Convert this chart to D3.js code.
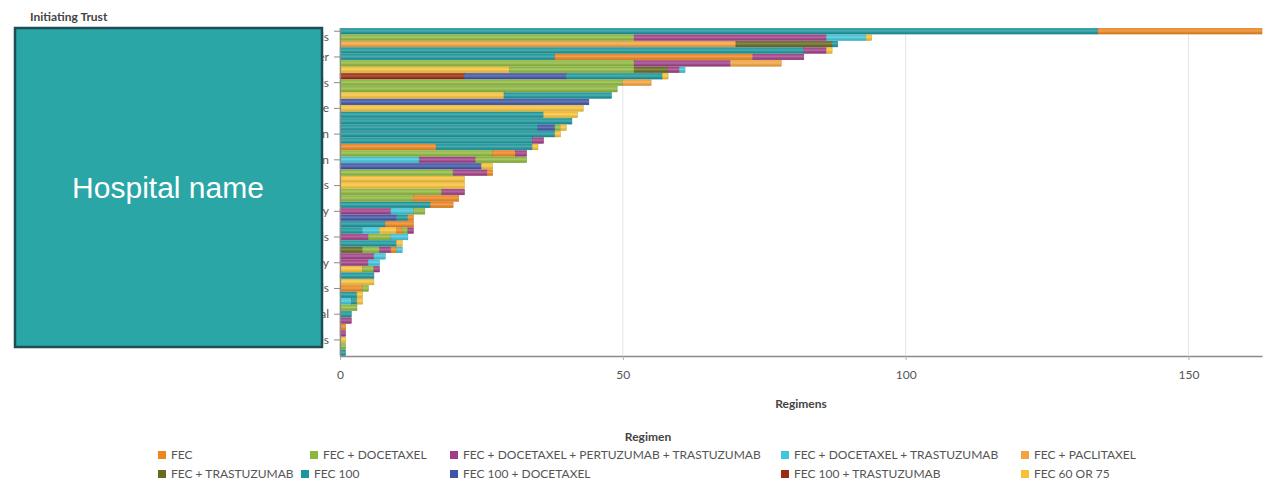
<!DOCTYPE html>
<html>
<head>
<meta charset="utf-8">
<script src="https://cdn.jsdelivr.net/npm/d3@7"></script>
<style>
  html, body { margin: 0; padding: 0; background: #fff; }
  svg { display: block; }
  text { font-family: Lato, "Open Sans", sans-serif; }
</style>
</head>
<body>
<svg id="chart" width="1287" height="484"></svg>
<script>
// ---------------- DATA ----------------
const hospitals = [
  "Northfield Hospitals", "Royal Eastgate Hospital", "St Marys General Hospital", "Westbrook Hospital",
  "University Hospitals of Leicester", "Kingsway District Hospital", "Riverside Hospital", "Hillcrest Royal Infirmary",
  "Southmead Acute Hospitals", "Queens Memorial Hospital", "Valley Community Hospital", "Castle Hill Hospital",
  "Regional Cancer Centre", "Parkside Hospital", "Lakeside General Hospital", "Abbey Road Infirmary",
  "Hospital of St John", "Moorfield Hospital", "Bridgewater Hospital", "Harbour View Hospital",
  "Royal Free London", "Meadowbank Hospital", "Greenlane Hospital", "Oakwood Infirmary",
  "Leeds", "Stonebridge Hospital", "Marshfield Hospital", "Highgate Hospital",
  "Rugby", "Elmwood Hospital", "Fairview Hospital", "Brookside Hospital",
  "Central City Hospitals", "Millbrook Hospital", "Redhill Hospital", "Willowdale Hospital",
  "Kingsbridge Royal Infirmary", "Beacon Hospital", "Heathfield Hospital", "Cedar Hospital",
  "Northern Shire Hospitals", "Seaview Hospital", "Foxhall Hospital", "Glenmoor Hospital",
  "Westfield General Hospital", "Pinegrove Hospital", "Rosehill Hospital", "Lowmoor Hospital",
  "Eastern Valley Hospitals", "Bayside Hospital", "Thornbury Hospital"
];

const regimens = [
  "FEC", "FEC + DOCETAXEL", "FEC + DOCETAXEL + PERTUZUMAB + TRASTUZUMAB",
  "FEC + DOCETAXEL + TRASTUZUMAB", "FEC + PACLITAXEL", "FEC + TRASTUZUMAB",
  "FEC 100", "FEC 100 + DOCETAXEL", "FEC 100 + TRASTUZUMAB", "FEC 60 OR 75"
];

const regimenColors = [
  "#ee861f", "#8db93b", "#a03f86", "#3ec6da", "#f5a33c",
  "#66691e", "#19979c", "#3e54a6", "#9c2a10", "#f8c236"
];

// values per hospital (51 bars, in the order of `hospitals`)
const fec = [29,0,0,0,35,0,0,0,0,0, 0,0,0,0,0,0,0,0,17,4, 0,0,1,0,0,0,8,4,0,1, 5,1,0,0,1,0,0,0,0,0, 4,0,0,0,0,0,1,0,0,0, 0];
const fecDocetaxel = [0,52,0,0,0,52,22,0,50,49, 0,0,0,0,0,1,0,0,0,27, 9,0,20,0,0,18,13,0,2,0, 0,1,4,0,3,0,0,2,0,0, 1,0,0,3,0,0,0,0,0,1, 0];
const fecDocPerTras = [0,34,0,4,9,17,2,0,0,0, 0,0,0,0,0,0,0,2,0,2, 10,0,6,0,0,4,0,0,9,0, 0,1,5,0,2,6,5,1,0,0, 0,0,0,0,0,2,0,1,0,0, 0];
const fecDocTras = [0,7,0,0,0,0,1,0,0,0, 0,0,0,0,0,0,0,0,0,0, 14,0,0,0,0,0,0,0,4,0, 0,3,3,0,1,2,2,0,0,0, 0,0,2,0,0,0,0,0,0,0, 0];
const fecPaclitaxel = [0,0,70,0,0,9,0,0,5,0, 0,0,0,0,0,0,0,0,0,0, 0,0,0,0,0,0,0,0,0,0, 0,0,0,0,0,0,0,0,0,0, 0,0,0,0,0,0,0,0,0,0, 0];
const fecTrastuzumab = [0,0,17,0,0,0,6,0,0,0, 0,0,0,0,0,0,0,0,0,0, 0,0,0,0,0,0,0,0,0,0, 0,0,0,0,4,0,0,0,0,0, 0,0,0,0,0,0,0,0,0,0, 0];
const fec100 = [134,0,1,82,38,0,0,17,0,0, 19,0,0,36,41,35,38,34,17,0, 0,0,0,0,0,0,0,16,0,2, 8,4,0,10,0,0,0,0,6,0, 0,3,1,0,2,0,0,0,0,0, 1];
const fec100Docetaxel = [0,0,0,0,0,0,0,18,0,0, 0,44,0,0,0,3,0,0,0,0, 0,25,0,0,0,0,0,0,0,10, 0,0,0,0,0,0,0,0,0,0, 0,0,0,0,0,0,0,0,0,0, 0];
const fec100Trastuzumab = [0,0,0,0,0,0,0,22,0,0, 0,0,0,0,0,0,0,0,0,0, 0,0,0,0,0,0,0,0,0,0, 0,0,0,0,0,0,0,0,0,0, 0,0,0,0,0,0,0,0,0,0, 0];
const fec60or75 = [0,1,0,1,0,0,30,1,0,0, 29,0,43,6,0,1,1,0,1,0, 0,2,0,22,22,0,0,0,0,0, 0,3,0,1,0,0,0,4,0,6, 0,1,1,0,0,0,0,0,1,0, 0];

const seriesValues = [fec, fecDocetaxel, fecDocPerTras, fecDocTras, fecPaclitaxel,
  fecTrastuzumab, fec100, fec100Docetaxel, fec100Trastuzumab, fec60or75];

const xTickValues = [0, 50, 100, 150];
const xMax = 163;

// ---------------- LAYOUT ----------------
const svg = d3.select("#chart");
const plot = { left: 340, right: 1262, top: 28, bottom: 356 };

const x = d3.scaleLinear().domain([0, xMax]).range([plot.left, plot.right]);
const y = d3.scaleBand().domain(hospitals).range([plot.top, plot.bottom])
  .paddingInner(0.12).paddingOuter(0.06);
const color = d3.scaleOrdinal().domain(regimens).range(regimenColors);

// stacked segments: within each bar, largest regimen first
const segments = [];
hospitals.forEach((h, i) => {
  const parts = regimens.map((r, k) => ({ regimen: r, k, value: seriesValues[k][i] }))
    .filter(d => d.value > 0)
    .sort((a, b) => d3.descending(a.value, b.value) || d3.ascending(a.k, b.k));
  let acc = 0;
  parts.forEach(p => {
    segments.push({ hospital: h, regimen: p.regimen, x0: acc, x1: acc + p.value });
    acc += p.value;
  });
});

// gradient highlight for bars
const defs = svg.append("defs");
const grad = defs.append("linearGradient").attr("id", "gloss")
  .attr("x1", 0).attr("y1", 0).attr("x2", 0).attr("y2", 1);
grad.append("stop").attr("offset", "0%").attr("stop-color", "#fff").attr("stop-opacity", 0.0);
grad.append("stop").attr("offset", "45%").attr("stop-color", "#fff").attr("stop-opacity", 0.22);
grad.append("stop").attr("offset", "100%").attr("stop-color", "#000").attr("stop-opacity", 0.06);

// grid lines
svg.append("g").selectAll("line").data(xTickValues.filter(d => d > 0)).join("line")
  .attr("x1", d => x(d)).attr("x2", d => x(d))
  .attr("y1", plot.top).attr("y2", plot.bottom)
  .attr("stroke", "#e4e4e4").attr("stroke-width", 1);

// bars
svg.append("g").selectAll("rect").data(segments).join("rect")
  .attr("x", d => x(d.x0))
  .attr("y", d => y(d.hospital))
  .attr("width", d => x(d.x1) - x(d.x0))
  .attr("height", y.bandwidth())
  .attr("fill", d => color(d.regimen))
  .attr("stroke", d => d3.color(color(d.regimen)).darker(0.5))
  .attr("stroke-width", 0.5);

svg.append("g").selectAll("rect").data(segments).join("rect")
  .attr("x", d => x(d.x0))
  .attr("y", d => y(d.hospital))
  .attr("width", d => x(d.x1) - x(d.x0))
  .attr("height", y.bandwidth())
  .attr("fill", "url(#gloss)");

// x axis
const xAxis = svg.append("g")
  .attr("transform", `translate(0,${plot.bottom})`)
  .call(d3.axisBottom(x).tickValues(xTickValues).tickSize(4).tickPadding(10).tickSizeOuter(0));
xAxis.select(".domain").attr("stroke", "#8a8a8a").attr("stroke-width", 1.5);
xAxis.selectAll(".tick line").attr("stroke", "#b0b0b0");
xAxis.selectAll(".tick text").attr("fill", "#555").attr("font-size", 12)
  .style("font-family", "Lato, sans-serif");

// y axis (every 4th label shown)
const yAxis = svg.append("g")
  .attr("transform", `translate(${plot.left},0)`)
  .call(d3.axisLeft(y).tickValues(hospitals.filter((d, i) => i % 4 === 0))
    .tickSize(6).tickPadding(5).tickSizeOuter(0));
yAxis.select(".domain").attr("stroke", "#8a8a8a").attr("stroke-width", 1.2);
yAxis.selectAll(".tick line").attr("stroke", "#8a8a8a");
yAxis.selectAll(".tick text").attr("fill", "#555").attr("font-size", 12)
  .style("font-family", "Lato, sans-serif");
// first label is kept inside the plot area
yAxis.selectAll(".tick text").filter((d, i) => i === 0).attr("dy", "0.85em");

// axis titles
svg.append("text").attr("x", (plot.left + plot.right) / 2).attr("y", 408)
  .attr("text-anchor", "middle").attr("font-size", 12).attr("font-weight", 700)
  .attr("fill", "#444").text("Regimens");

svg.append("text").attr("x", 30).attr("y", 21)
  .attr("font-size", 12).attr("font-weight", 700).attr("fill", "#444")
  .text("Initiating Trust");

// anonymising box over hospital names
svg.append("rect").attr("x", 15).attr("y", 28).attr("width", 307).attr("height", 319)
  .attr("fill", "#2aa6a6").attr("stroke", "#1e4d56").attr("stroke-width", 2.5);
svg.append("text").attr("x", 168).attr("y", 198).attr("text-anchor", "middle")
  .attr("font-size", 30).attr("fill", "#fff")
  .style("font-family", "'Liberation Sans', Arial, sans-serif")
  .text("Hospital name");

// legend
svg.append("text").attr("x", 648).attr("y", 441).attr("text-anchor", "middle")
  .attr("font-size", 12).attr("font-weight", 700).attr("fill", "#444").text("Regimen");

const legendX = [158, 310, 450, 781, 1021, 158, 301, 450, 781, 1021];
const legendRowY = [455, 474];
const leg = svg.append("g").selectAll("g").data(regimens).join("g")
  .attr("transform", (d, i) => `translate(${legendX[i]},${legendRowY[Math.floor(i / 5)]})`);
leg.append("rect").attr("x", 0).attr("y", -4).attr("width", 8).attr("height", 8)
  .attr("fill", d => color(d));
leg.append("text").attr("x", 13).attr("y", 0).attr("dy", "0.35em")
  .attr("font-size", 12).attr("fill", "#555").text(d => d);
</script>
</body>
</html>
